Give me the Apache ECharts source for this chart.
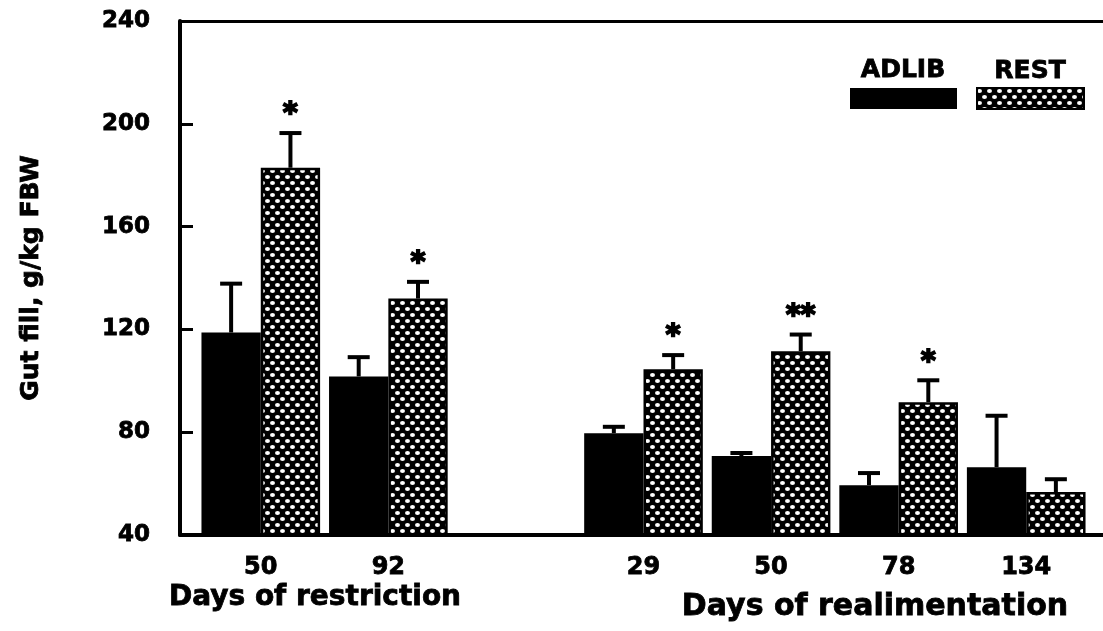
<!DOCTYPE html>
<html>
<head>
<meta charset="utf-8">
<script src="https://cdn.jsdelivr.net/npm/echarts@6/dist/echarts.min.js"></script>
<style>
html,body{margin:0;padding:0;background:#fff;}
#chart{width:1103px;height:631px;}
</style>
</head>
<body>
<div id="chart"></div>
<script>
// ---- data ----
const categories = ['50', '92', '', '29', '50', '78', '134'];
const adlibValues = [118.8, 101.7, null, 79.6, 70.7, 59.4, 66.4];
const adlibErrors = [19, 7.5, null, 2.5, 1.2, 4.7, 20];
const restValues = [182.9, 132, null, 104.5, 111.5, 91.7, 56.7];
const restErrors = [13.5, 6.5, null, 5.5, 6.5, 8.5, 5];
const restStars = ['*', '*', '', '*', '**', '*', ''];
const adlibStars = ['', '', '', '', '', '', ''];
const yTicks = [40, 80, 120, 160, 200, 240];
const groupTitles = ['Days of restriction', 'Days of realimentation'];
const seriesNames = ['ADLIB', 'REST'];
const yTitle = 'Gut fill, g/kg FBW';

// ---- pattern for REST ----
function makePattern() {
  const c = document.createElement('canvas');
  c.width = 10; c.height = 12;
  const ctx = c.getContext('2d');
  ctx.fillStyle = '#000';
  ctx.fillRect(0, 0, 10, 12);
  ctx.fillStyle = '#fff';
  [[2.5, 3], [7.5, 9]].forEach(p => {
    ctx.beginPath();
    ctx.ellipse(p[0], p[1], 2.5, 2.1, 0, 0, Math.PI * 2);
    ctx.fill();
  });
  return c;
}
const restFill = { image: makePattern(), repeat: 'repeat' };

const FONT = '"DejaVu Sans", sans-serif';
const GAP_RATIO = 0.07;
const HEAVY = { textBorderColor: '#000', textBorderWidth: 0.8 };

function barData(vals) {
  return vals.map(v => (v == null ? '-' : v));
}
function errData(vals, errs) {
  const out = [];
  vals.forEach((v, i) => { if (v != null) out.push([i, v, errs[i]]); });
  return out;
}
function errRender(side, stars) {
  return function (params, api) {
    const i = api.value(0), v = api.value(1), e = api.value(2);
    const band = api.size([1, 0])[0];
    const bw = band * (1 - GAP_RATIO) / 2;
    const top = api.coord([i, v]);
    const up = api.coord([i, v + e]);
    const x = top[0] + side * bw / 2;
    const children = [
      { type: 'line', shape: { x1: x, y1: top[1], x2: x, y2: up[1] },
        style: { stroke: '#000', lineWidth: 4 } },
      { type: 'line', shape: { x1: x - 11, y1: up[1], x2: x + 11, y2: up[1] },
        style: { stroke: '#000', lineWidth: 4 } }
    ];
    const s = stars[i];
    if (s) {
      children.push({ type: 'text', x: x, y: up[1] - 18,
        style: { text: s, font: 'bold 28px ' + FONT, fill: '#000', stroke: '#000', lineWidth: 2,
          align: 'center', verticalAlign: 'middle' } });
    }
    return { type: 'group', children: children };
  };
}

function gText(str, x, y, size) {
  return { type: 'text', x: x, y: y,
    style: { text: str, font: 'bold ' + size + 'px ' + FONT, fill: '#000', stroke: '#000', lineWidth: 0.8,
      align: 'center', verticalAlign: 'middle' } };
}

const chart = echarts.init(document.getElementById('chart'), null, { renderer: 'canvas' });
chart.setOption({
  animation: false,
  backgroundColor: '#fff',
  grid: [
    { left: 197, right: 13, top: 21, bottom: 96 },
    { left: 180, right: 0, top: 21, bottom: 96 }
  ],
  legend: {
    data: seriesNames,
    left: 845, top: 82,
    icon: 'rect', itemWidth: 107, itemHeight: 21, itemGap: 19,
    selectedMode: false,
    formatter: function () { return ''; },
    textStyle: { fontSize: 1 }
  },
  xAxis: [
    { type: 'category', gridIndex: 0, data: categories,
      axisLine: { show: false }, axisTick: { show: false },
      axisLabel: Object.assign({ color: '#000', fontFamily: FONT, fontWeight: 'bold', fontSize: 24, margin: 21 }, HEAVY),
      splitLine: { show: false } },
    { type: 'value', gridIndex: 1, position: 'bottom', min: 0, max: 1,
      axisLine: { show: true, lineStyle: { color: '#000', width: 4 } },
      axisTick: { show: false }, axisLabel: { show: false }, splitLine: { show: false } },
    { type: 'value', gridIndex: 1, position: 'top', min: 0, max: 1,
      axisLine: { show: true, lineStyle: { color: '#000', width: 3 } },
      axisTick: { show: false }, axisLabel: { show: false }, splitLine: { show: false } }
  ],
  yAxis: [
    { type: 'value', gridIndex: 0, min: yTicks[0], max: yTicks[yTicks.length - 1], interval: 40, show: false },
    { type: 'value', gridIndex: 1, min: yTicks[0], max: yTicks[yTicks.length - 1], interval: 40,
      axisLine: { show: true, lineStyle: { color: '#000', width: 4 } },
      axisTick: { show: true, inside: true, length: 13, lineStyle: { color: '#000', width: 3 } },
      axisLabel: Object.assign({ color: '#000', fontFamily: FONT, fontWeight: 'bold', fontSize: 23, margin: 30 }, HEAVY),
      splitLine: { show: false },
      name: yTitle, nameLocation: 'middle', nameRotate: 90, nameGap: 136,
      nameTextStyle: Object.assign({ color: '#000', fontFamily: FONT, fontWeight: 'bold', fontSize: 25 }, HEAVY) }
  ],
  graphic: [
    gText(seriesNames[0], 903, 70, 25),
    gText(seriesNames[1], 1030, 71, 25),
    gText(groupTitles[0], 315, 598, 28),
    gText(groupTitles[1], 875, 607, 30)
  ],
  series: [
    { name: seriesNames[0], type: 'bar', xAxisIndex: 0, yAxisIndex: 0,
      data: barData(adlibValues), barGap: '0%', barCategoryGap: (GAP_RATIO * 100) + '%',
      itemStyle: { color: '#000' } },
    { name: seriesNames[1], type: 'bar', xAxisIndex: 0, yAxisIndex: 0,
      data: barData(restValues), barGap: '0%', barCategoryGap: (GAP_RATIO * 100) + '%',
      itemStyle: { color: restFill, borderColor: '#000', borderWidth: 2.5 } },
    { type: 'custom', xAxisIndex: 0, yAxisIndex: 0, data: errData(adlibValues, adlibErrors),
      renderItem: errRender(-1, adlibStars), z: 3 },
    { type: 'custom', xAxisIndex: 0, yAxisIndex: 0, data: errData(restValues, restErrors),
      renderItem: errRender(1, restStars), z: 3 }
  ]
});
</script>
</body>
</html>
